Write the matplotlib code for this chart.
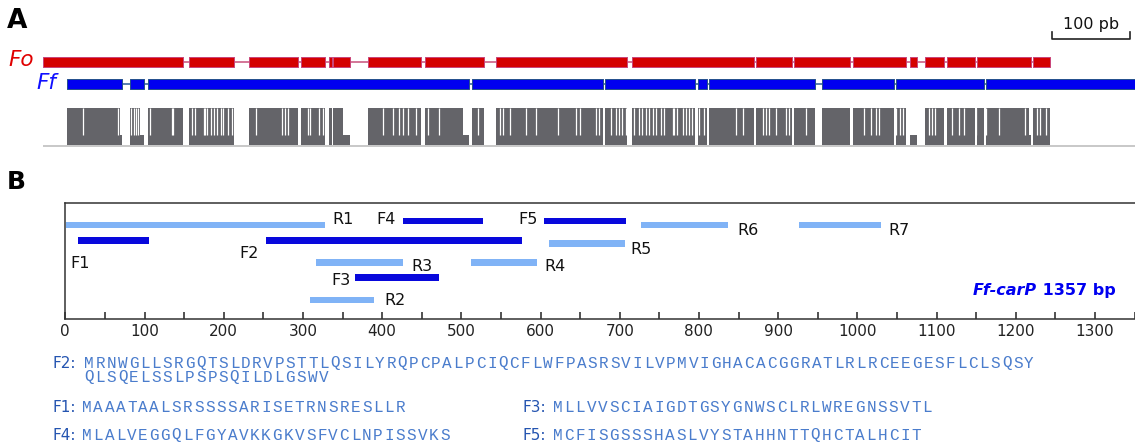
import matplotlib
matplotlib.use("Agg")
import matplotlib.pyplot as plt

W, H = 1135, 446

# ---- panel A: Fo / Ff alignment, positions in alignment columns (bp)
FO_STARTS = [0, 188, 266, 332, 369, 374, 419, 492, 584, 759, 918, 967, 1043, 1117, 1136, 1164, 1203, 1275]
FO_ENDS = [180, 246, 329, 363, 372, 396, 487, 568, 752, 915, 965, 1039, 1111, 1126, 1160, 1200, 1272, 1296]
FF_STARTS = [31, 112, 135, 553, 724, 843, 858, 1003, 1098, 1214]
FF_ENDS = [102, 130, 549, 721, 840, 855, 994, 1096, 1212, 1430]
# columns where the two proteins differ (only the low bar is drawn)
MISMATCH = [52, 97, 114, 117, 120, 123, 138, 166, 168, 192, 196, 207, 209, 211, 217, 220,
            224, 230, 232, 239, 243, 275, 308, 312, 316, 341, 344, 356, 361, 438, 451, 459,
            464, 470, 481, 496, 510, 560, 588, 592, 601, 622, 635, 663, 686, 691, 712, 716,
            731, 738, 742, 746, 751, 761, 768, 772, 776, 781, 785, 789, 796, 800, 811, 813,
            817, 824, 828, 832, 836, 845, 851, 892, 901, 927, 931, 935, 944, 957, 961, 982,
            1057, 1066, 1072, 1076, 1098, 1104, 1108, 1141, 1145, 1149, 1162, 1171, 1179,
            1186, 1201, 1214, 1231, 1265, 1280, 1284, 1291]
LOW_STARTS = [99, 125, 386, 541, 1116, 1269]
LOW_ENDS = [102, 130, 396, 549, 1126, 1272]
SCALE_BP = 100
SCALE_AT = 1299

# ---- panel B: primers on Ff-carP (bp)
PRIMERS = ["R1", "F4", "F5", "R6", "R7", "F1", "F2", "R5", "R3", "R4", "F3", "R2"]
P_START = [1, 426, 605, 727, 927, 16, 254, 611, 317, 512, 366, 309]
P_END = [328, 527, 708, 837, 1030, 106, 577, 707, 427, 596, 472, 390]
GENE = "Ff-carP"
GENE_LEN = 1357

# ---- deduced ORF peptides
ORFS = ["F2", "F1", "F3", "F4", "F5"]
PEPTIDES = [
    "MRNWGLLSRGQTSLDRVPSTTLQSILYRQPCPALPCIQCFLWFPASRSVILVPMVIGHACACGGRATLRLRCEEGESFLCLSQSY"
    "QLSQELSSLPSPSQILDLGSWV",
    "MAAATAALSRSSSSARISETRNSRESLLR",
    "MLLVVSCIAIGDTGSYGNWSCLRLWREGNSSVTL",
    "MLALVEGGQLFGYAVKKGKVSFVCLNPISSVKS",
    "MCFISGSSSHASLVYSTAHHNTTQHCTALHCIT",
]

# layout (lane heights in panel B, label anchors)
LANE = {"R1": 0.813, "F4": 0.847, "F5": 0.847, "R6": 0.813, "R7": 0.813, "F1": 0.677,
        "F2": 0.677, "R5": 0.654, "R3": 0.487, "R4": 0.487, "F3": 0.357, "R2": 0.164}
LABEL_AT = {"R1": (337, 0.856, "left"), "F4": (417, 0.862, "right"),
            "F5": (596, 0.862, "right"), "R6": (849, 0.761, "left"),
            "R7": (1039, 0.761, "left"), "F1": (7, 0.481, "left"),
            "F2": (244, 0.568, "right"), "R5": (713, 0.597, "left"),
            "R3": (437, 0.452, "left"), "R4": (605, 0.452, "left"),
            "F3": (360, 0.329, "right"), "R2": (403, 0.159, "left")}
SEQ_AT = {"F2": (53, 89, 363), "F1": (52, 87, 408), "F4": (52, 87, 435),
          "F3": (522, 558, 408), "F5": (522, 558, 435)}
SEQ_STEP = 11.19
WRAP = 85

RED, BLUE, LIGHT = "#d40000", "#0000f0", "#80b3f6"
DARK = "#0808dc"
GREY = "#646469"


def fx(px):
    return px / W


def fy(py):
    return 1 - py / H


fig = plt.figure(figsize=(W / 100, H / 100), dpi=100)

# ---------------- panel A
axA = fig.add_axes([0, fy(160), 1, 160 / H])
axA.set_xlim(-55, 1406)
axA.set_ylim(160, 0)
axA.axis("off")

FO_Y, FF_Y, TH = 62, 84, 10
axA.hlines(FO_Y, FO_STARTS[0], FO_ENDS[-1], color="#c8507a", lw=1.1, zorder=1)
axA.broken_barh([(s, e - s) for s, e in zip(FO_STARTS, FO_ENDS)], (FO_Y - TH / 2, TH),
                facecolors=RED, edgecolors="#c8457a", lw=0.7, zorder=2)
axA.hlines(FF_Y, FF_STARTS[0], FF_ENDS[-1], color="#2a5a9a", lw=1.1, zorder=1)
axA.broken_barh([(s, e - s) for s, e in zip(FF_STARTS, FF_ENDS)], (FF_Y - TH / 2, TH),
                facecolors=BLUE, edgecolors="#24508c", lw=0.7, zorder=2)

# identity track: aligned where both genes have a block
TOP, MID, BOT = 108.3, 135, 145
shared = []
for s1, e1 in zip(FO_STARTS, FO_ENDS):
    for s2, e2 in zip(FF_STARTS, FF_ENDS):
        lo, hi = max(s1, s2), min(e1, e2)
        if hi > lo:
            shared.append((lo, hi - lo))
axA.hlines(BOT + 1, FO_STARTS[0], 1406, color="#c8c8c8", lw=1.4, zorder=1)
axA.broken_barh(shared, (TOP, BOT - TOP), facecolors=GREY, zorder=2)
axA.vlines(MISMATCH, TOP, MID, color="white", lw=0.9, zorder=3)
axA.broken_barh([(s, e - s) for s, e in zip(LOW_STARTS, LOW_ENDS)], (TOP, MID - TOP),
                facecolors="white", zorder=3)

axA.plot([SCALE_AT, SCALE_AT, SCALE_AT + SCALE_BP, SCALE_AT + SCALE_BP],
         [31.7, 39.3, 39.3, 31.7], color="#222222", lw=1.2)
axA.text(SCALE_AT + SCALE_BP / 2, 25, f"{SCALE_BP} pb", ha="center", va="center",
         fontsize=11.5, color="#111111")

fig.text(fx(7), fy(21), "A", fontsize=19, fontweight="bold", va="center")
fig.text(fx(34), fy(FO_Y - 2), "Fo", fontsize=15.5, style="italic", color="#e00000",
         ha="right", va="center")
fig.text(fx(56), fy(FF_Y - 1), "Ff", fontsize=15.5, style="italic", color="#1010ff",
         ha="right", va="center")

# ---------------- panel B
x0, px_per_bp = 65.3, 0.792
axB = fig.add_axes([fx(x0), fy(319), GENE_LEN * px_per_bp / W, (319 - 203.3) / H])
axB.set_xlim(0, GENE_LEN)
axB.set_ylim(0, 1)
for name, s, e in zip(PRIMERS, P_START, P_END):
    axB.barh(LANE[name], e - s, left=s, height=0.058,
             color=DARK if name.startswith("F") else LIGHT, lw=0)
    lx, ly, ha = LABEL_AT[name]
    axB.text(lx, ly, name, ha=ha, va="center", fontsize=11.5, color="#111111")
size_lbl = axB.text(1326, 0.245, f" {GENE_LEN} bp", ha="right", va="center",
                    fontsize=11.5, fontweight="bold", color=BLUE)
axB.annotate(GENE, xy=(0, 0.5), xycoords=size_lbl, ha="right", va="center",
             fontsize=11.5, fontweight="bold", style="italic", color=BLUE)
axB.set_xticks(range(0, 1301, 100))
axB.set_xticks(range(50, 1351, 100), minor=True)
axB.set_yticks([])
axB.tick_params(axis="x", which="both", direction="in", length=5, width=1.1,
                labelsize=11, pad=3.5, colors="#222222")
for sp in axB.spines.values():
    sp.set_linewidth(1.1)
    sp.set_color("#333333")

fig.text(fx(7), fy(182), "B", fontsize=18, fontweight="bold", va="center")

# ---------------- peptides
for name, pep in zip(ORFS, PEPTIDES):
    lx, sx, y = SEQ_AT[name]
    fig.text(fx(lx), fy(y), name + ":", fontsize=11, color="#2454b0", va="center")
    lines = [pep[i:i + WRAP] for i in range(0, len(pep), WRAP)]
    for k, line in enumerate(lines):
        for i, ch in enumerate(line):
            fig.text(fx(sx + i * SEQ_STEP), fy(y + 14 * k), ch, family="Liberation Mono",
                     fontsize=11.5, color="#4a7ccc", ha="center", va="center")

fig.savefig("out.png", dpi=100)
